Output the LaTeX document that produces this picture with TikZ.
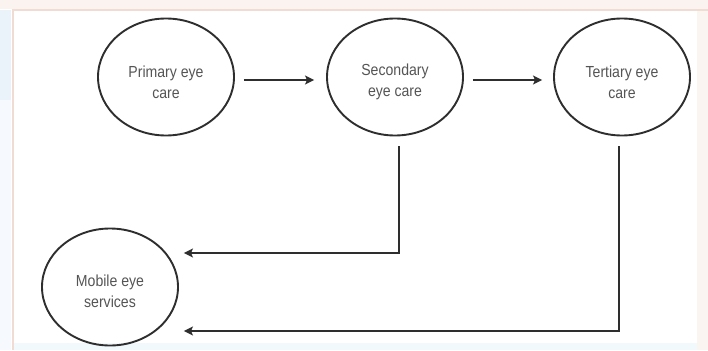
\documentclass[tikz,border=0pt]{standalone}
\usepackage{fontspec}
\setmainfont[FakeStretch=0.88]{Liberation Sans}
\usetikzlibrary{shapes.geometric,arrows.meta,calc}
\definecolor{inkline}{HTML}{2E2E2E}
\definecolor{inktext}{HTML}{555555}
\definecolor{framepink}{HTML}{F1DCD4}
\definecolor{sideblue}{HTML}{DCE9F6}
\definecolor{paleblue}{HTML}{F2F9FC}
\tikzset{
  carecircle/.style={ellipse, draw=inkline, line width=1.9pt,
    minimum width=136pt, minimum height=117pt, inner sep=0pt},
  caretext/.style={text=inktext, align=center, font=\fontsize{16}{21}\selectfont},
  link/.style={draw=inkline, line width=2.4pt,
    -{Stealth[length=9pt,width=9pt,inset=2pt]}},
}
\begin{document}
\begin{tikzpicture}[x=1pt,y=-1pt]
  % page area and its border
  \useasboundingbox (0,0) rectangle (708,350);
  \fill[white] (0,0) rectangle (708,350);
  \fill[framepink!35] (0,0) rectangle (708,9);
  \fill[sideblue!60] (0,10) rectangle (11,100);
  \fill[sideblue!25] (0,100) rectangle (11,350);
  \fill[paleblue] (14,343) rectangle (708,350);
  \fill[framepink!30] (697,11) rectangle (708,350);
  \draw[framepink, line width=2pt] (708,10) -- (13,10) -- (13,350);

  % the four kinds of eye care
  \node[carecircle] (prim) at (166,77) {};
  \node[carecircle] (sec)  at (395,77) {};
  \node[carecircle] (ter)  at (622,77) {};
  \node[carecircle] (mob)  at (110,287) {};

  \node[caretext] (primt) at ($(prim.center)+(0,5)$) {Primary eye\\care};
  \node[caretext] (sect)  at ($(sec.center)+(0,5)$)  {Secondary\\eye care};
  \node[caretext] (tert)  at ($(ter.center)+(0,5)$)  {Tertiary eye\\care};
  \node[caretext] (mobt)  at ($(mob.center)+(0,4)$)  {Mobile eye\\services};

  % referral path between levels
  \draw[link] ([shift={(9,3)}]prim.east) -- ([shift={(-12,3)}]sec.west);
  \draw[link] ([shift={(9,3)}]sec.east) -- ([shift={(-11,3)}]ter.west);

  % both higher levels feed the mobile services
  \coordinate (mobA) at ([shift={(5,-34)}]mob.east);
  \coordinate (mobB) at ([shift={(5,44)}]mob.east);
  \draw[link] ([shift={(4,10)}]sec.south) |- (mobA);
  \draw[link] ([shift={(-3,10)}]ter.south) |- (mobB);
\end{tikzpicture}
\end{document}
